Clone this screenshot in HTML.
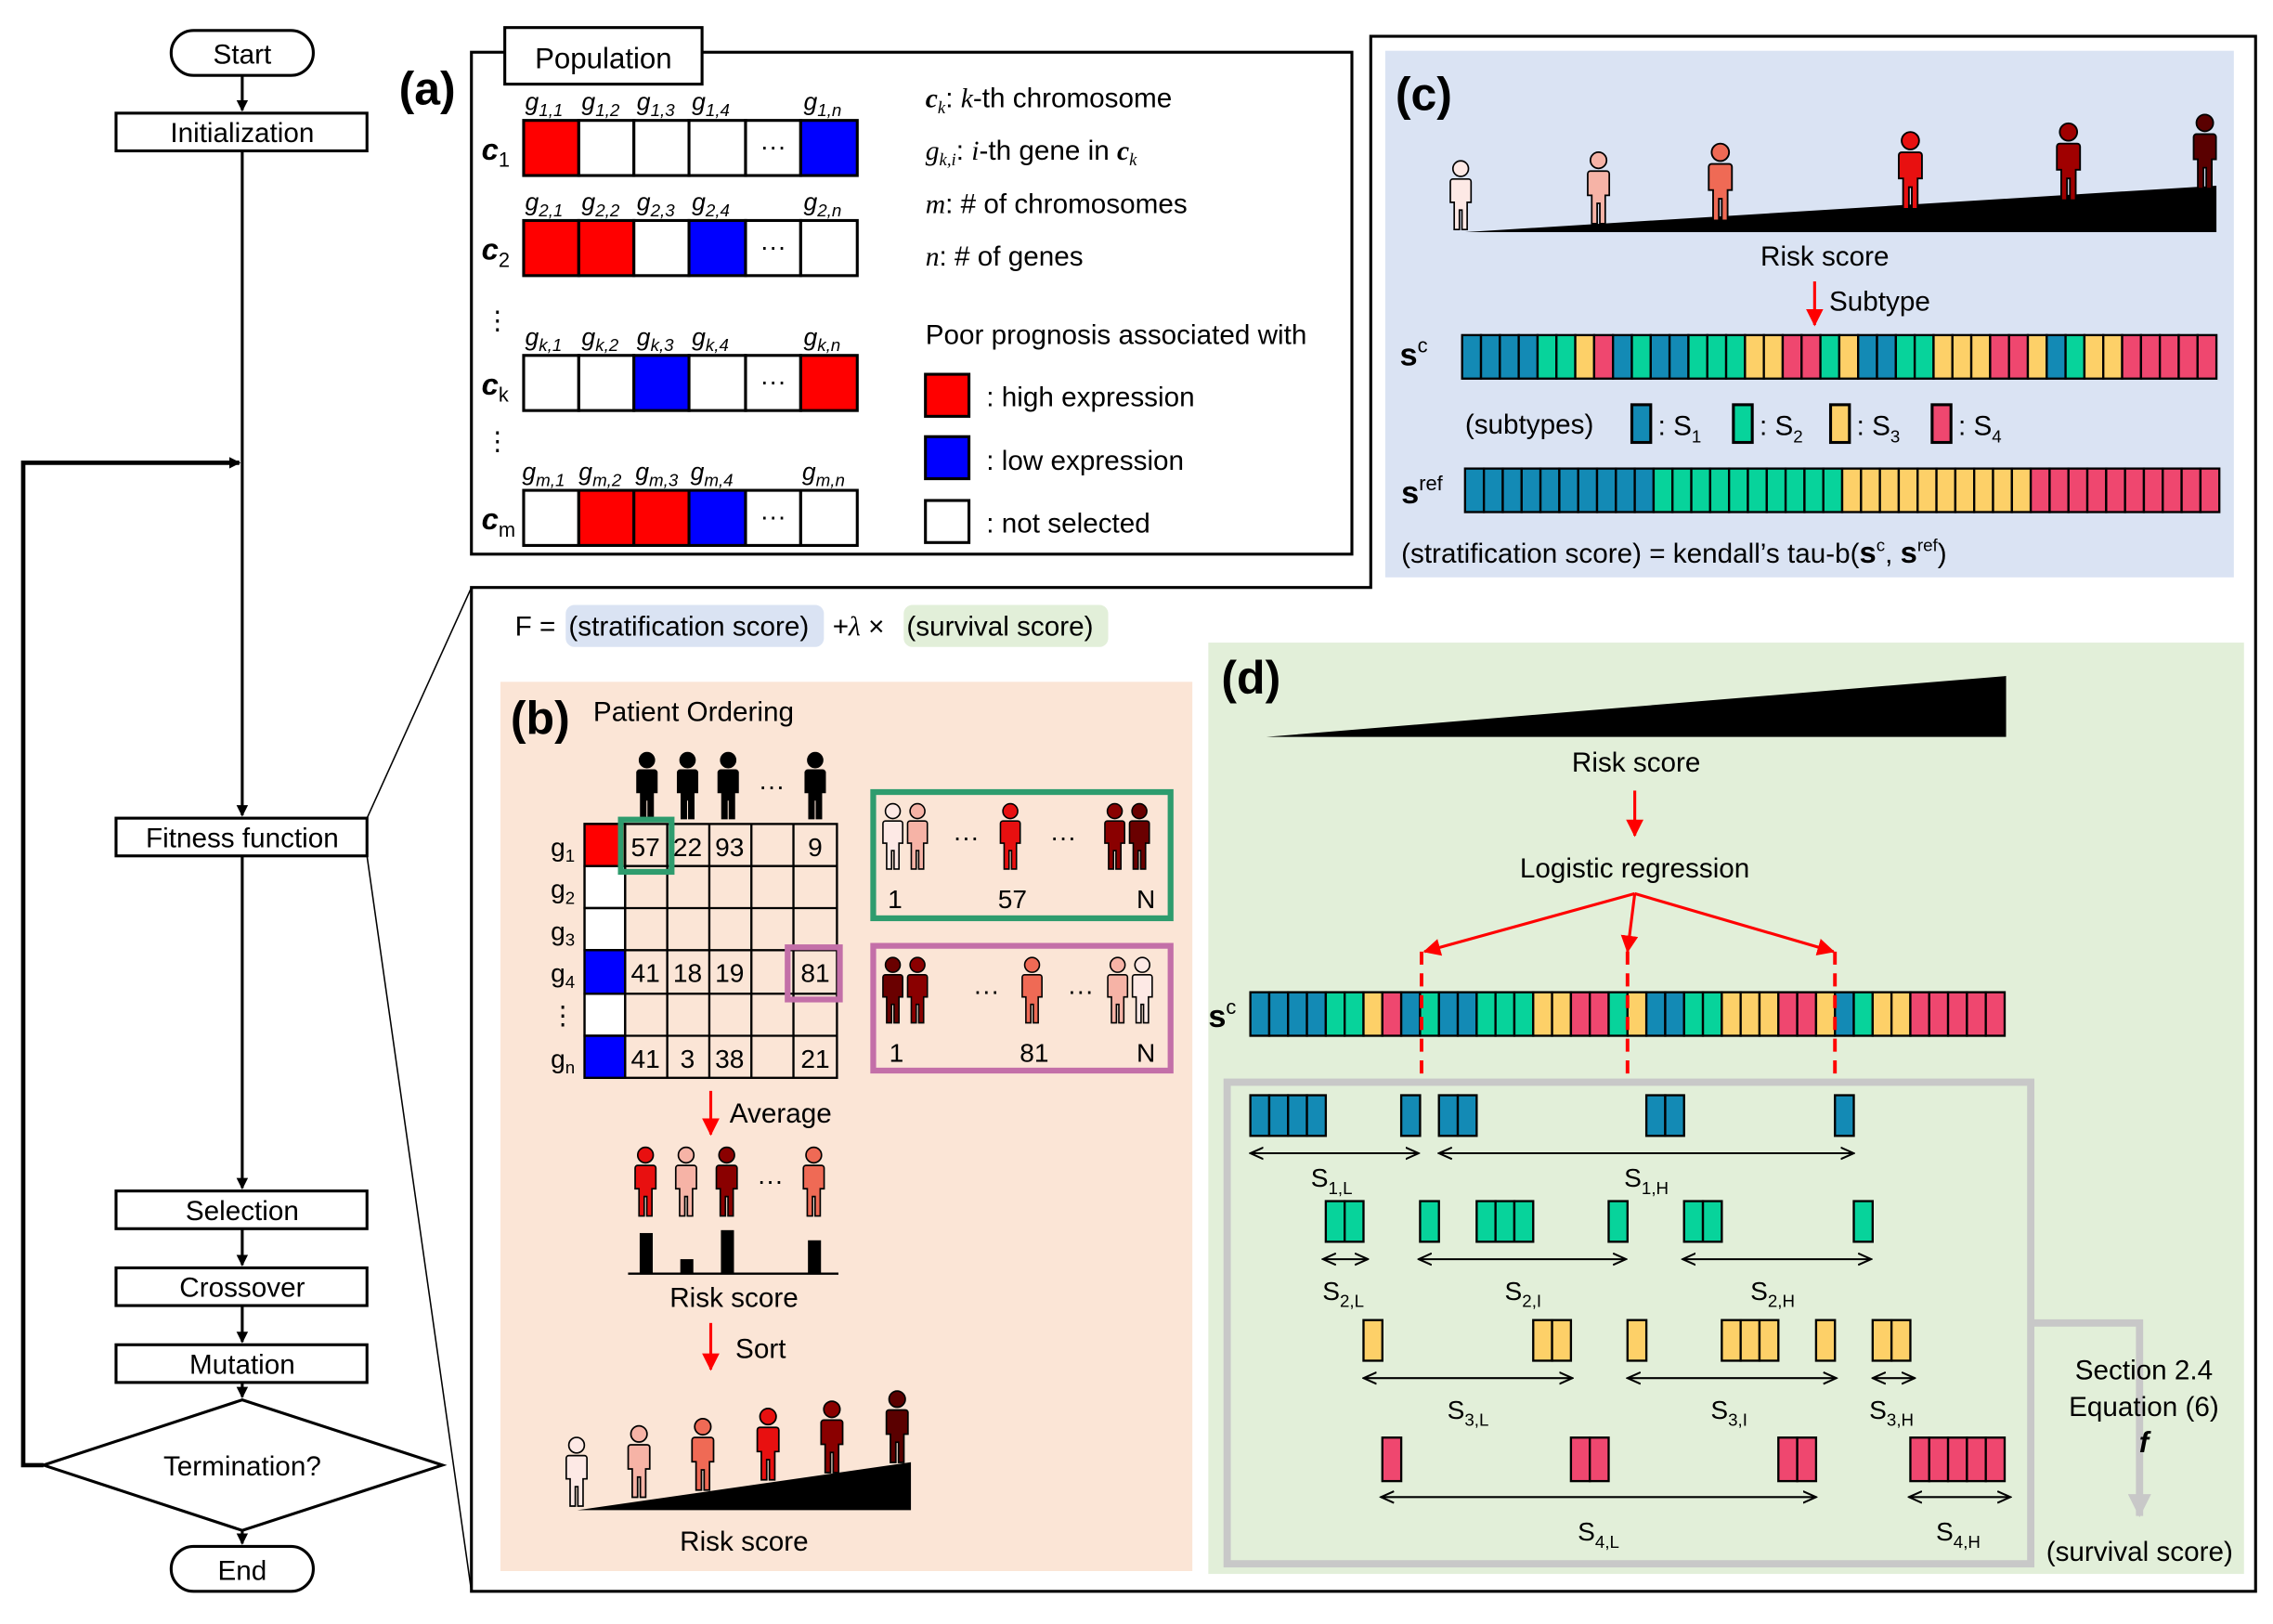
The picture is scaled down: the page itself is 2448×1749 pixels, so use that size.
<!DOCTYPE html>
<html><head><meta charset="utf-8"><style>html,body{margin:0;padding:0;background:#fff}svg{display:block}text{font-family:"Liberation Sans",sans-serif}</style></head><body>
<svg width="2448" height="1749" viewBox="0 0 1567 1119.5" preserveAspectRatio="none" xmlns="http://www.w3.org/2000/svg" xmlns:xlink="http://www.w3.org/1999/xlink">
<defs>
<marker id="ab" markerWidth="8" markerHeight="8" refX="7" refY="4" orient="auto" markerUnits="userSpaceOnUse"><path d="M0,0 L8,4 L0,8z" fill="#000"/></marker>
<marker id="ar" markerWidth="12" markerHeight="12" refX="11" refY="6" orient="auto" markerUnits="userSpaceOnUse"><path d="M0,0 L12,6 L0,12z" fill="#f00"/></marker>
<marker id="ag" markerWidth="16" markerHeight="16" refX="15" refY="8" orient="auto" markerUnits="userSpaceOnUse"><path d="M0,0 L16,8 L0,16z" fill="#c8c8c8"/></marker>
<marker id="dh" markerWidth="10" markerHeight="10" refX="9" refY="5" orient="auto-start-reverse" markerUnits="userSpaceOnUse"><path d="M0,1 L9,5 L0,9" fill="none" stroke="#000" stroke-width="1.3"/></marker>
<symbol id="p" viewBox="0 0 20 56" overflow="visible"><circle cx="10" cy="7" r="6" stroke="#000" stroke-width="1.2"/><path d="M4,15 h12 a2,2 0 0 1 2,2 v16 h-3 v21 h-4 v-15 h-2 v15 h-4 v-21 h-3 v-16 a2,2 0 0 1 2,-2z" stroke="#000" stroke-width="1.2"/></symbol>
<g id="sc" stroke="#000" stroke-width="1.5">
<rect x="0" width="13" height="30" fill="#138ab5"/><rect x="13" width="13" height="30" fill="#138ab5"/><rect x="26" width="13" height="30" fill="#138ab5"/><rect x="39" width="13" height="30" fill="#138ab5"/><rect x="52" width="13" height="30" fill="#07d39b"/><rect x="65" width="13" height="30" fill="#07d39b"/><rect x="78" width="13" height="30" fill="#fdd068"/><rect x="91" width="13" height="30" fill="#ef476f"/><rect x="104" width="13" height="30" fill="#138ab5"/><rect x="117" width="13" height="30" fill="#07d39b"/><rect x="130" width="13" height="30" fill="#138ab5"/><rect x="143" width="13" height="30" fill="#138ab5"/><rect x="156" width="13" height="30" fill="#07d39b"/><rect x="169" width="13" height="30" fill="#07d39b"/><rect x="182" width="13" height="30" fill="#07d39b"/><rect x="195" width="13" height="30" fill="#fdd068"/><rect x="208" width="13" height="30" fill="#fdd068"/><rect x="221" width="13" height="30" fill="#ef476f"/><rect x="234" width="13" height="30" fill="#ef476f"/><rect x="247" width="13" height="30" fill="#07d39b"/><rect x="260" width="13" height="30" fill="#fdd068"/><rect x="273" width="13" height="30" fill="#138ab5"/><rect x="286" width="13" height="30" fill="#138ab5"/><rect x="299" width="13" height="30" fill="#07d39b"/><rect x="312" width="13" height="30" fill="#07d39b"/><rect x="325" width="13" height="30" fill="#fdd068"/><rect x="338" width="13" height="30" fill="#fdd068"/><rect x="351" width="13" height="30" fill="#fdd068"/><rect x="364" width="13" height="30" fill="#ef476f"/><rect x="377" width="13" height="30" fill="#ef476f"/><rect x="390" width="13" height="30" fill="#fdd068"/><rect x="403" width="13" height="30" fill="#138ab5"/><rect x="416" width="13" height="30" fill="#07d39b"/><rect x="429" width="13" height="30" fill="#fdd068"/><rect x="442" width="13" height="30" fill="#fdd068"/><rect x="455" width="13" height="30" fill="#ef476f"/><rect x="468" width="13" height="30" fill="#ef476f"/><rect x="481" width="13" height="30" fill="#ef476f"/><rect x="494" width="13" height="30" fill="#ef476f"/><rect x="507" width="13" height="30" fill="#ef476f"/>
</g>
<g id="sref" stroke="#000" stroke-width="1.5">
<rect x="0" width="13" height="30" fill="#138ab5"/><rect x="13" width="13" height="30" fill="#138ab5"/><rect x="26" width="13" height="30" fill="#138ab5"/><rect x="39" width="13" height="30" fill="#138ab5"/><rect x="52" width="13" height="30" fill="#138ab5"/><rect x="65" width="13" height="30" fill="#138ab5"/><rect x="78" width="13" height="30" fill="#138ab5"/><rect x="91" width="13" height="30" fill="#138ab5"/><rect x="104" width="13" height="30" fill="#138ab5"/><rect x="117" width="13" height="30" fill="#138ab5"/>
<rect x="130" width="13" height="30" fill="#07d39b"/><rect x="143" width="13" height="30" fill="#07d39b"/><rect x="156" width="13" height="30" fill="#07d39b"/><rect x="169" width="13" height="30" fill="#07d39b"/><rect x="182" width="13" height="30" fill="#07d39b"/><rect x="195" width="13" height="30" fill="#07d39b"/><rect x="208" width="13" height="30" fill="#07d39b"/><rect x="221" width="13" height="30" fill="#07d39b"/><rect x="234" width="13" height="30" fill="#07d39b"/><rect x="247" width="13" height="30" fill="#07d39b"/>
<rect x="260" width="13" height="30" fill="#fdd068"/><rect x="273" width="13" height="30" fill="#fdd068"/><rect x="286" width="13" height="30" fill="#fdd068"/><rect x="299" width="13" height="30" fill="#fdd068"/><rect x="312" width="13" height="30" fill="#fdd068"/><rect x="325" width="13" height="30" fill="#fdd068"/><rect x="338" width="13" height="30" fill="#fdd068"/><rect x="351" width="13" height="30" fill="#fdd068"/><rect x="364" width="13" height="30" fill="#fdd068"/><rect x="377" width="13" height="30" fill="#fdd068"/>
<rect x="390" width="13" height="30" fill="#ef476f"/><rect x="403" width="13" height="30" fill="#ef476f"/><rect x="416" width="13" height="30" fill="#ef476f"/><rect x="429" width="13" height="30" fill="#ef476f"/><rect x="442" width="13" height="30" fill="#ef476f"/><rect x="455" width="13" height="30" fill="#ef476f"/><rect x="468" width="13" height="30" fill="#ef476f"/><rect x="481" width="13" height="30" fill="#ef476f"/><rect x="494" width="13" height="30" fill="#ef476f"/><rect x="507" width="13" height="30" fill="#ef476f"/>
</g>
</defs>

<g stroke="#000" stroke-width="2" fill="#fff">
<rect x="118" y="21" width="98" height="31" rx="15.5"/>
<rect x="80" y="78" width="173" height="26"/>
<rect x="80" y="564" width="173" height="26"/>
<rect x="80" y="821" width="173" height="26"/>
<rect x="80" y="874" width="173" height="26"/>
<rect x="80" y="927" width="173" height="26"/>
<polygon points="167,965 305,1010 167,1055 30,1010"/>
<rect x="118" y="1066" width="98" height="31" rx="15.5"/>
</g>
<g stroke="#000" stroke-width="2" fill="none">
<line x1="167" y1="52" x2="167" y2="76" marker-end="url(#ab)"/>
<line x1="167" y1="104" x2="167" y2="562" marker-end="url(#ab)"/>
<line x1="167" y1="590" x2="167" y2="819" marker-end="url(#ab)"/>
<line x1="167" y1="847" x2="167" y2="872" marker-end="url(#ab)"/>
<line x1="167" y1="900" x2="167" y2="925" marker-end="url(#ab)"/>
<line x1="167" y1="953" x2="167" y2="963" marker-end="url(#ab)"/>
<line x1="167" y1="1055" x2="167" y2="1064" marker-end="url(#ab)"/>
<polyline points="30,1010 16,1010 16,319 165,319" stroke-width="3" marker-end="url(#ab)"/>
<line x1="253" y1="564" x2="325" y2="405" stroke-width="1"/>
<line x1="253" y1="590" x2="325" y2="1097" stroke-width="1"/>
</g>
<g font-size="19" text-anchor="middle">
<text x="167" y="44">Start</text><text x="167" y="98">Initialization</text><text x="167" y="584">Fitness function</text><text x="167" y="841">Selection</text><text x="167" y="894">Crossover</text><text x="167" y="947">Mutation</text><text x="167" y="1017">Termination?</text><text x="167" y="1089">End</text>
</g>

<rect x="325" y="36" width="607" height="346" fill="none" stroke="#000" stroke-width="2"/>
<polygon points="945,25 1555,25 1555,1097 325,1097 325,405 945,405" fill="none" stroke="#000" stroke-width="2"/>
<rect x="348" y="19" width="136" height="39" fill="#fff" stroke="#000" stroke-width="2"/>
<text x="416" y="47" font-size="20" text-anchor="middle">Population</text>
<text x="275" y="72" font-size="32" font-weight="bold">(a)</text>

<g stroke="#000" stroke-width="2">
<rect x="361" y="83" width="38" height="38" fill="#f00"/><rect x="399" y="83" width="38" height="38" fill="#fff"/><rect x="437" y="83" width="38" height="38" fill="#fff"/><rect x="475" y="83" width="39" height="38" fill="#fff"/><rect x="514" y="83" width="38" height="38" fill="#fff"/><rect x="552" y="83" width="39" height="38" fill="#00f"/>
<rect x="361" y="152" width="38" height="38" fill="#f00"/><rect x="399" y="152" width="38" height="38" fill="#f00"/><rect x="437" y="152" width="38" height="38" fill="#fff"/><rect x="475" y="152" width="39" height="38" fill="#00f"/><rect x="514" y="152" width="38" height="38" fill="#fff"/><rect x="552" y="152" width="39" height="38" fill="#fff"/>
<rect x="361" y="245" width="38" height="38" fill="#fff"/><rect x="399" y="245" width="38" height="38" fill="#fff"/><rect x="437" y="245" width="38" height="38" fill="#00f"/><rect x="475" y="245" width="39" height="38" fill="#fff"/><rect x="514" y="245" width="38" height="38" fill="#fff"/><rect x="552" y="245" width="39" height="38" fill="#f00"/>
<rect x="361" y="338" width="38" height="38" fill="#fff"/><rect x="399" y="338" width="38" height="38" fill="#f00"/><rect x="437" y="338" width="38" height="38" fill="#f00"/><rect x="475" y="338" width="39" height="38" fill="#00f"/><rect x="514" y="338" width="38" height="38" fill="#fff"/><rect x="552" y="338" width="39" height="38" fill="#fff"/>
<rect x="638" y="258" width="30" height="29" fill="#f00"/><rect x="638" y="301" width="30" height="29" fill="#00f"/><rect x="638" y="345" width="30" height="29" fill="#fff"/>
</g>
<g font-size="18" text-anchor="middle"><text x="533" y="107">···</text><text x="533" y="176">···</text><text x="533" y="269">···</text><text x="533" y="362">···</text><text x="343" y="227">⋮</text><text x="343" y="310">⋮</text></g>
<g font-family="Liberation Serif" font-style="italic" font-size="17">
<text x="362" y="76">g<tspan font-size="12" dy="4">1,1</tspan></text><text x="401" y="76">g<tspan font-size="12" dy="4">1,2</tspan></text><text x="439" y="76">g<tspan font-size="12" dy="4">1,3</tspan></text><text x="477" y="76">g<tspan font-size="12" dy="4">1,4</tspan></text><text x="554" y="76">g<tspan font-size="12" dy="4">1,n</tspan></text>
<text x="362" y="145">g<tspan font-size="12" dy="4">2,1</tspan></text><text x="401" y="145">g<tspan font-size="12" dy="4">2,2</tspan></text><text x="439" y="145">g<tspan font-size="12" dy="4">2,3</tspan></text><text x="477" y="145">g<tspan font-size="12" dy="4">2,4</tspan></text><text x="554" y="145">g<tspan font-size="12" dy="4">2,n</tspan></text>
<text x="362" y="238">g<tspan font-size="12" dy="4">k,1</tspan></text><text x="401" y="238">g<tspan font-size="12" dy="4">k,2</tspan></text><text x="439" y="238">g<tspan font-size="12" dy="4">k,3</tspan></text><text x="477" y="238">g<tspan font-size="12" dy="4">k,4</tspan></text><text x="554" y="238">g<tspan font-size="12" dy="4">k,n</tspan></text>
<text x="360" y="331">g<tspan font-size="12" dy="4">m,1</tspan></text><text x="399" y="331">g<tspan font-size="12" dy="4">m,2</tspan></text><text x="438" y="331">g<tspan font-size="12" dy="4">m,3</tspan></text><text x="476" y="331">g<tspan font-size="12" dy="4">m,4</tspan></text><text x="553" y="331">g<tspan font-size="12" dy="4">m,n</tspan></text>
<text x="332" y="110" font-weight="bold" font-size="21">c<tspan font-size="14" dy="5" font-style="normal" font-weight="normal">1</tspan></text>
<text x="332" y="179" font-weight="bold" font-size="21">c<tspan font-size="14" dy="5" font-style="normal" font-weight="normal">2</tspan></text>
<text x="332" y="272" font-weight="bold" font-size="21">c<tspan font-size="14" dy="5" font-style="normal" font-weight="normal">k</tspan></text>
<text x="332" y="365" font-weight="bold" font-size="21">c<tspan font-size="14" dy="5" font-style="normal" font-weight="normal">m</tspan></text>
</g>
<g font-size="19">
<text x="638" y="74"><tspan font-family="Liberation Serif" font-style="italic" font-weight="bold">c</tspan><tspan font-family="Liberation Serif" font-style="italic" font-size="12" dy="4">k</tspan><tspan dy="-4">: </tspan><tspan font-family="Liberation Serif" font-style="italic">k</tspan>-th chromosome</text>
<text x="638" y="110"><tspan font-family="Liberation Serif" font-style="italic">g</tspan><tspan font-family="Liberation Serif" font-style="italic" font-size="12" dy="4">k,i</tspan><tspan dy="-4">: </tspan><tspan font-family="Liberation Serif" font-style="italic">i</tspan>-th gene in <tspan font-family="Liberation Serif" font-style="italic" font-weight="bold">c</tspan><tspan font-family="Liberation Serif" font-style="italic" font-size="12" dy="4">k</tspan></text>
<text x="638" y="147"><tspan font-family="Liberation Serif" font-style="italic">m</tspan>: # of chromosomes</text>
<text x="638" y="183"><tspan font-family="Liberation Serif" font-style="italic">n</tspan>: # of genes</text>
<text x="638" y="237">Poor prognosis associated with</text>
<text x="680" y="280">: high expression</text>
<text x="680" y="324">: low expression</text>
<text x="680" y="367">: not selected</text>
</g>

<rect x="955" y="35" width="585" height="363" fill="#dae3f3"/>
<text x="962" y="76" font-size="32" font-weight="bold">(c)</text>
<polygon points="1010,160 1528,160 1528,128" fill="#000"/>
<use href="#p" x="997" y="110" width="20" height="50" fill="#fde9e5"/>
<use href="#p" x="1092" y="104" width="20" height="52" fill="#f6b3a6"/>
<use href="#p" x="1176" y="98" width="20" height="56" fill="#ef6a55"/>
<use href="#p" x="1307" y="90" width="20" height="56" fill="#e81010"/>
<use href="#p" x="1416" y="84" width="20" height="56" fill="#a00000"/>
<use href="#p" x="1510" y="78" width="20" height="54" fill="#5a0000"/>
<text x="1258" y="183" font-size="19" text-anchor="middle">Risk score</text>
<line x1="1251" y1="194" x2="1251" y2="224" stroke="#f00" stroke-width="2" marker-end="url(#ar)"/>
<text x="1261" y="214" font-size="19">Subtype</text>
<text x="965" y="252" font-size="22" font-weight="bold">s<tspan font-weight="normal" font-size="14" dy="-9">c</tspan></text>
<use href="#sc" x="1008" y="231"/>
<text x="1010" y="299" font-size="19">(subtypes)</text>
<g stroke="#000" stroke-width="2"><rect x="1125" y="279" width="13" height="26" fill="#138ab5"/><rect x="1195" y="279" width="13" height="26" fill="#07d39b"/><rect x="1262" y="279" width="13" height="26" fill="#fdd068"/><rect x="1332" y="279" width="13" height="26" fill="#ef476f"/></g>
<g font-size="19"><text x="1143" y="300">: S<tspan font-size="12" dy="5">1</tspan></text><text x="1213" y="300">: S<tspan font-size="12" dy="5">2</tspan></text><text x="1280" y="300">: S<tspan font-size="12" dy="5">3</tspan></text><text x="1350" y="300">: S<tspan font-size="12" dy="5">4</tspan></text></g>
<text x="966" y="347" font-size="22" font-weight="bold">s<tspan font-weight="normal" font-size="14" dy="-9">ref</tspan></text>
<use href="#sref" x="1010" y="323"/>
<text x="966" y="388" font-size="19">(stratification score) = kendall’s tau-b(<tspan font-weight="bold" font-size="21">s</tspan><tspan font-size="12" dy="-8">c</tspan><tspan dy="8">, </tspan><tspan font-weight="bold" font-size="21">s</tspan><tspan font-size="12" dy="-8">ref</tspan><tspan dy="8">)</tspan></text>

<rect x="390" y="417" width="178" height="29" rx="6" fill="#dae3f3"/>
<rect x="623" y="417" width="141" height="29" rx="6" fill="#e2efd9"/>
<text x="355" y="438" font-size="19">F = <tspan x="392">(stratification score)</tspan><tspan x="574">+</tspan><tspan font-family="Liberation Serif" font-style="italic">λ</tspan> × <tspan x="625">(survival score)</tspan></text>

<rect x="345" y="470" width="477" height="613" fill="#fbe5d6"/>
<text x="352" y="506" font-size="32" font-weight="bold">(b)</text>
<text x="409" y="497" font-size="19">Patient Ordering</text>
<use href="#p" x="437" y="518" width="18" height="48" fill="#000"/>
<use href="#p" x="465" y="518" width="18" height="48" fill="#000"/>
<use href="#p" x="493" y="518" width="18" height="48" fill="#000"/>
<use href="#p" x="553" y="518" width="18" height="48" fill="#000"/>
<text x="532" y="548" font-size="18" text-anchor="middle">···</text>
<g stroke="#000" stroke-width="1.5" fill="#fbe5d6">
<rect x="403" y="568" width="174" height="175" fill="#fbe5d6"/>
<rect x="403" y="568" width="28" height="29" fill="#f00"/><rect x="403" y="597" width="28" height="29" fill="#fff"/><rect x="403" y="626" width="28" height="29" fill="#fff"/><rect x="403" y="655" width="28" height="30" fill="#00f"/><rect x="403" y="685" width="28" height="29" fill="#fff"/><rect x="403" y="714" width="28" height="29" fill="#00f"/>
<path d="M431,568V743M460,568V743M489,568V743M518,568V743M547,568V743M403,597H577M403,626H577M403,655H577M403,685H577M403,714H577" fill="none"/>
</g>
<rect x="428" y="565" width="35" height="36" fill="none" stroke="#2e9c6e" stroke-width="4"/>
<rect x="543" y="653" width="36" height="36" fill="none" stroke="#c36fa8" stroke-width="4"/>
<g font-size="18" text-anchor="middle">
<text x="445" y="590">57</text><text x="474" y="590">22</text><text x="503" y="590">93</text><text x="562" y="590">9</text>
<text x="445" y="677">41</text><text x="474" y="677">18</text><text x="503" y="677">19</text><text x="562" y="677">81</text>
<text x="445" y="736">41</text><text x="474" y="736">3</text><text x="503" y="736">38</text><text x="562" y="736">21</text>
<text x="388" y="590">g<tspan font-size="12" dy="4">1</tspan></text><text x="388" y="619">g<tspan font-size="12" dy="4">2</tspan></text><text x="388" y="648">g<tspan font-size="12" dy="4">3</tspan></text><text x="388" y="677">g<tspan font-size="12" dy="4">4</tspan></text><text x="388" y="706">⋮</text><text x="388" y="736">g<tspan font-size="12" dy="4">n</tspan></text>
</g>
<rect x="602" y="546" width="205" height="87" fill="none" stroke="#2e9c6e" stroke-width="4"/>
<rect x="602" y="652" width="205" height="86" fill="none" stroke="#c36fa8" stroke-width="4"/>
<use href="#p" x="607" y="553" width="17" height="48" fill="#fde9e5"/><use href="#p" x="624" y="553" width="17" height="48" fill="#f6b3a6"/>
<use href="#p" x="688" y="553" width="17" height="48" fill="#e81010"/>
<use href="#p" x="760" y="553" width="17" height="48" fill="#8a0000"/><use href="#p" x="777" y="553" width="17" height="48" fill="#6a0000"/>
<use href="#p" x="607" y="659" width="17" height="48" fill="#6a0000"/><use href="#p" x="624" y="659" width="17" height="48" fill="#8a0000"/>
<use href="#p" x="703" y="659" width="17" height="48" fill="#ef6a55"/>
<use href="#p" x="762" y="659" width="17" height="48" fill="#f6b3a6"/><use href="#p" x="779" y="659" width="17" height="48" fill="#fde9e5"/>
<g font-size="18" text-anchor="middle">
<text x="666" y="583">···</text><text x="733" y="583">···</text><text x="680" y="689">···</text><text x="745" y="689">···</text>
<text x="617" y="626">1</text><text x="698" y="626">57</text><text x="790" y="626">N</text>
<text x="618" y="732">1</text><text x="713" y="732">81</text><text x="790" y="732">N</text>
</g>
<line x1="490" y1="752" x2="490" y2="782" stroke="#f00" stroke-width="2" marker-end="url(#ar)"/>
<text x="503" y="774" font-size="19">Average</text>
<use href="#p" x="436" y="790" width="18" height="50" fill="#e81010"/>
<use href="#p" x="464" y="790" width="18" height="50" fill="#f6b3a6"/>
<use href="#p" x="492" y="790" width="18" height="50" fill="#8a0000"/>
<use href="#p" x="552" y="790" width="18" height="50" fill="#ef6a55"/>
<text x="531" y="820" font-size="18" text-anchor="middle">···</text>
<g fill="#000"><rect x="441" y="850" width="9" height="28"/><rect x="469" y="868" width="9" height="10"/><rect x="497" y="848" width="9" height="30"/><rect x="557" y="855" width="9" height="23"/></g>
<line x1="433" y1="878" x2="578" y2="878" stroke="#000" stroke-width="1.5"/>
<text x="506" y="901" font-size="19" text-anchor="middle">Risk score</text>
<line x1="490" y1="912" x2="490" y2="944" stroke="#f00" stroke-width="2" marker-end="url(#ar)"/>
<text x="507" y="936" font-size="19">Sort</text>
<polygon points="398,1041 628,1041 628,1008" fill="#000"/>
<use href="#p" x="388" y="990" width="19" height="50" fill="#fde9e5"/>
<use href="#p" x="431" y="982" width="19" height="52" fill="#f6b3a6"/>
<use href="#p" x="475" y="977" width="19" height="52" fill="#ef6a55"/>
<use href="#p" x="520" y="970" width="19" height="52" fill="#e81010"/>
<use href="#p" x="564" y="965" width="19" height="52" fill="#8a0000"/>
<use href="#p" x="609" y="958" width="19" height="52" fill="#5a0000"/>
<text x="513" y="1069" font-size="19" text-anchor="middle">Risk score</text>

<rect x="833" y="443" width="714" height="642" fill="#e2efd9"/>
<text x="842" y="478" font-size="32" font-weight="bold">(d)</text>
<polygon points="873,508 1383,508 1383,466" fill="#000"/>
<text x="1128" y="532" font-size="19" text-anchor="middle">Risk score</text>
<line x1="1127" y1="545" x2="1127" y2="576" stroke="#f00" stroke-width="2" marker-end="url(#ar)"/>
<text x="1127" y="605" font-size="19" text-anchor="middle">Logistic regression</text>
<g stroke="#f00" stroke-width="2"><line x1="1127" y1="616" x2="982" y2="656" marker-end="url(#ar)"/><line x1="1127" y1="616" x2="1122" y2="656" marker-end="url(#ar)"/><line x1="1127" y1="616" x2="1264" y2="656" marker-end="url(#ar)"/></g>
<text x="833" y="708" font-size="22" font-weight="bold">s<tspan font-weight="normal" font-size="14" dy="-9">c</tspan></text>
<use href="#sc" x="862" y="684"/>
<g stroke="#f00" stroke-width="2.5" stroke-dasharray="9,6"><line x1="980" y1="656" x2="980" y2="745"/><line x1="1122" y1="656" x2="1122" y2="745"/><line x1="1265" y1="656" x2="1265" y2="745"/></g>
<rect x="846" y="746" width="554" height="332" fill="none" stroke="#c8c8c8" stroke-width="5"/>
<polyline points="1400,912 1475,912 1475,1045" fill="none" stroke="#c8c8c8" stroke-width="5" marker-end="url(#ag)"/>
<g stroke="#000" stroke-width="1.5">
<g fill="#138ab5"><rect x="862" y="755" width="13" height="28"/><rect x="875" y="755" width="13" height="28"/><rect x="888" y="755" width="13" height="28"/><rect x="901" y="755" width="13" height="28"/><rect x="966" y="755" width="13" height="28"/><rect x="992" y="755" width="13" height="28"/><rect x="1005" y="755" width="13" height="28"/><rect x="1135" y="755" width="13" height="28"/><rect x="1148" y="755" width="13" height="28"/><rect x="1265" y="755" width="13" height="28"/></g>
<g fill="#07d39b"><rect x="914" y="828" width="13" height="28"/><rect x="927" y="828" width="13" height="28"/><rect x="979" y="828" width="13" height="28"/><rect x="1018" y="828" width="13" height="28"/><rect x="1031" y="828" width="13" height="28"/><rect x="1044" y="828" width="13" height="28"/><rect x="1109" y="828" width="13" height="28"/><rect x="1161" y="828" width="13" height="28"/><rect x="1174" y="828" width="13" height="28"/><rect x="1278" y="828" width="13" height="28"/></g>
<g fill="#fdd068"><rect x="940" y="910" width="13" height="28"/><rect x="1057" y="910" width="13" height="28"/><rect x="1070" y="910" width="13" height="28"/><rect x="1122" y="910" width="13" height="28"/><rect x="1187" y="910" width="13" height="28"/><rect x="1200" y="910" width="13" height="28"/><rect x="1213" y="910" width="13" height="28"/><rect x="1252" y="910" width="13" height="28"/><rect x="1291" y="910" width="13" height="28"/><rect x="1304" y="910" width="13" height="28"/></g>
<g fill="#ef476f"><rect x="953" y="991" width="13" height="30"/><rect x="1083" y="991" width="13" height="30"/><rect x="1096" y="991" width="13" height="30"/><rect x="1226" y="991" width="13" height="30"/><rect x="1239" y="991" width="13" height="30"/><rect x="1317" y="991" width="13" height="30"/><rect x="1330" y="991" width="13" height="30"/><rect x="1343" y="991" width="13" height="30"/><rect x="1356" y="991" width="13" height="30"/><rect x="1369" y="991" width="13" height="30"/></g>
</g>
<g stroke="#000" stroke-width="1.3" marker-start="url(#dh)" marker-end="url(#dh)">
<line x1="862" y1="795" x2="978" y2="795"/><line x1="992" y1="795" x2="1278" y2="795"/>
<line x1="912" y1="868" x2="943" y2="868"/><line x1="978" y1="868" x2="1121" y2="868"/><line x1="1160" y1="868" x2="1290" y2="868"/>
<line x1="940" y1="950" x2="1084" y2="950"/><line x1="1122" y1="950" x2="1266" y2="950"/><line x1="1291" y1="950" x2="1320" y2="950"/>
<line x1="952" y1="1032" x2="1252" y2="1032"/><line x1="1316" y1="1032" x2="1386" y2="1032"/>
</g>
<g font-size="18" text-anchor="middle">
<text x="918" y="818">S<tspan font-size="12" dy="5">1,L</tspan></text><text x="1135" y="818">S<tspan font-size="12" dy="5">1,H</tspan></text>
<text x="926" y="896">S<tspan font-size="12" dy="5">2,L</tspan></text><text x="1050" y="896">S<tspan font-size="12" dy="5">2,I</tspan></text><text x="1222" y="896">S<tspan font-size="12" dy="5">2,H</tspan></text>
<text x="1012" y="978">S<tspan font-size="12" dy="5">3,L</tspan></text><text x="1192" y="978">S<tspan font-size="12" dy="5">3,I</tspan></text><text x="1304" y="978">S<tspan font-size="12" dy="5">3,H</tspan></text>
<text x="1102" y="1062">S<tspan font-size="12" dy="5">4,L</tspan></text><text x="1350" y="1062">S<tspan font-size="12" dy="5">4,H</tspan></text>
<text x="1478" y="951" font-size="19">Section 2.4</text><text x="1478" y="976" font-size="19">Equation (6)</text>
<text x="1478" y="1001" font-size="20" font-family="Liberation Serif" font-style="italic" font-weight="bold">f</text>
<text x="1475" y="1076" font-size="19">(survival score)</text>
</g>
</svg>
</body></html>
